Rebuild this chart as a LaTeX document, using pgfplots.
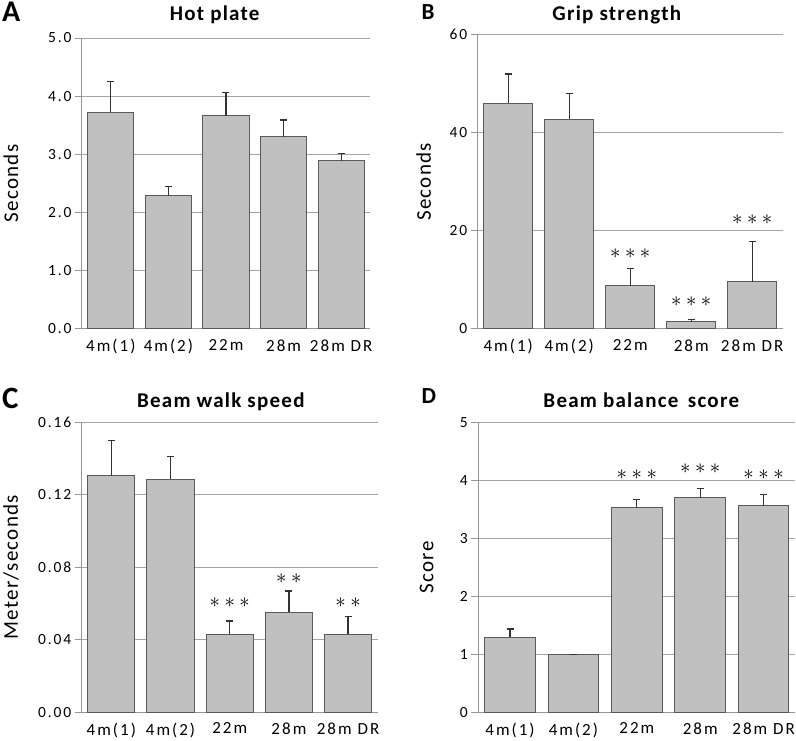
\documentclass[border=0pt]{standalone}
\usepackage{pgfplots}
\pgfplotsset{compat=1.18}
\usepackage{fontspec}
\setmainfont{Carlito}
\newfontfamily\tickfont[LetterSpace=12]{Carlito}
\newfontfamily\titlefont[LetterSpace=6]{Carlito}
\definecolor{barfill}{RGB}{192,192,192}
\definecolor{bardraw}{RGB}{90,90,90}
\definecolor{axgray}{RGB}{150,150,150}
\definecolor{grgray}{RGB}{165,165,165}
\definecolor{errcol}{RGB}{50,50,50}
\pgfplotsset{
  panel/.style={
    scale only axis, anchor=south west, clip=false,
    axis x line=bottom, axis y line=left,
    axis line style={draw=axgray, line width=1pt, -},
    ymajorgrids, major grid style={draw=grgray, line width=1pt},
    xmin=-0.5, xmax=4.5, ymin=0,
    xtick={0,1,2,3,4}, xticklabels={4m(1),4m(2),22m,28m,28m DR},
    x tick label style={font=\tickfont\fontsize{17}{17}\selectfont, text=black},
    major x tick style={draw=none},
    y tick style={draw=axgray, line width=1pt},
    tick align=outside, major tick length=7pt,
    y tick label style={font=\tickfont\fontsize{15.5}{15.5}\selectfont},
    /pgf/number format/assume math mode=true,
    every axis y label/.style={rotate=90, anchor=center, font=\titlefont\fontsize{21}{21}\selectfont},
    ybar, bar width=0.8,
  },
  bars/.style={fill=barfill, draw=bardraw, line width=1pt,
    error bars/.cd, y dir=plus, y explicit,
    error bar style={draw=errcol, line width=1.3pt},
    error mark options={rotate=90, draw=errcol, mark size=3.5pt, line width=1.3pt}},
}
\newcommand{\threestars}{\fontsize{20}{20}\selectfont${\ast}\mkern4mu{\ast}\mkern4mu{\ast}$}
\newcommand{\twostars}{\fontsize{20}{20}\selectfont${\ast}\mkern4mu{\ast}$}
\begin{document}
\begin{tikzpicture}
\useasboundingbox (0pt,0pt) rectangle (796pt,740pt);
% A
\begin{axis}[panel, at={(82pt,411pt)}, width=288pt, height=291pt, ymax=5,
  ytick={0,1,2,3,4,5},
  yticklabel style={/pgf/number format/.cd, fixed, fixed zerofill, precision=1},
  ylabel={Seconds}, ylabel style={at={(axis description cs:-0.2465,0.5)}}]
\addplot[bars] coordinates {
  (0,3.72) +- (0,0.53)
  (1,2.29) +- (0,0.16)
  (2,3.66) +- (0,0.40)
  (3,3.30) +- (0,0.29)
  (4,2.89) +- (0,0.12)
};
\end{axis}
% B
\begin{axis}[panel, at={(477.7pt,411pt)}, width=305pt, height=294.3pt, ymax=60,
  ytick={0,20,40,60},
  ylabel={Seconds}, ylabel style={at={(axis description cs:-0.177,0.5)}}]
\addplot[bars] coordinates {
  (0,46.0) +- (0,6.0)
  (1,42.75) +- (0,5.25)
  (2,8.77) +- (0,3.6)
  (3,1.43) +- (0,0.55)
  (4,9.65) +- (0,8.15)
};
\node at (axis cs:2,15.3) {\threestars};
\node at (axis cs:3,5.6) {\threestars};
\node at (axis cs:4,22.2) {\threestars};
\end{axis}
% C
\begin{axis}[panel, at={(81.7pt,27.7pt)}, width=296pt, height=290pt, ymax=0.16,
  ytick={0,0.04,0.08,0.12,0.16},
  yticklabel style={/pgf/number format/.cd, fixed, fixed zerofill, precision=2},
  scaled y ticks=false,
  ylabel={Meter/seconds}, ylabel style={at={(axis description cs:-0.239,0.5)}}]
\addplot[bars] coordinates {
  (0,0.1305) +- (0,0.0193)
  (1,0.1287) +- (0,0.0123)
  (2,0.0430) +- (0,0.0074)
  (3,0.0552) +- (0,0.0117)
  (4,0.0430) +- (0,0.0097)
};
\node at (axis cs:2,0.0607) {\threestars};
\node at (axis cs:3,0.0735) {\twostars};
\node at (axis cs:4,0.0607) {\twostars};
\end{axis}
% D
\begin{axis}[panel, at={(478.3pt,27.7pt)}, width=317pt, height=289.6pt, ymax=5,
  ytick={0,1,2,3,4,5},
  ylabel={Score}, ylabel style={at={(axis description cs:-0.163,0.5)}}]
\addplot[bars] coordinates {
  (0,1.295) +- (0,0.145)
  (1,0.99) +- (0,0.01)
  (2,3.53) +- (0,0.15)
  (3,3.70) +- (0,0.16)
  (4,3.57) +- (0,0.19)
};
\node at (axis cs:2,4.11) {\threestars};
\node at (axis cs:3,4.20) {\threestars};
\node at (axis cs:4,4.11) {\threestars};
\end{axis}
% titles and panel letters
\node[anchor=base, font=\titlefont\fontsize{21}{21}\selectfont\bfseries] at (214.7pt,719.3pt) {Hot plate};
\node[anchor=base, font=\titlefont\fontsize{21}{21}\selectfont\bfseries] at (616.8pt,719.3pt) {Grip strength};
\node[anchor=base, font=\titlefont\fontsize{21}{21}\selectfont\bfseries] at (220.8pt,332.3pt) {Beam walk speed};
\node[anchor=base, font=\titlefont\fontsize{21}{21}\selectfont\bfseries] at (641.3pt,332.7pt) {Beam balance\, score};
\node[anchor=base west, inner sep=0pt, font=\fontsize{30}{30}\selectfont\bfseries] at (2pt,718.5pt) {A};
\node[anchor=base west, inner sep=0pt, font=\fontsize{23}{23}\selectfont\bfseries] at (421.5pt,720pt) {B};
\node[anchor=base west, inner sep=0pt, font=\fontsize{31}{31}\selectfont\bfseries] at (2pt,331.7pt) {C};
\node[anchor=base west, inner sep=0pt, font=\fontsize{23}{23}\selectfont\bfseries] at (421.5pt,336pt) {D};
\end{tikzpicture}
\end{document}
